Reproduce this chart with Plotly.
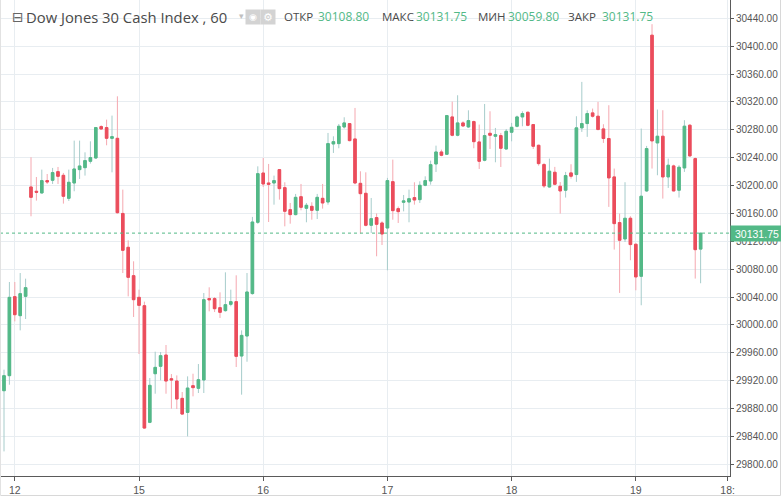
import plotly.graph_objects as go

# ---------------- data (hourly candles) ----------------
opens = [29905.6, 29927.2, 30040.6, 30013.3, 30041.0, 30198.0, 30191.8, 30189.4, 30207.1, 30207.6,
         30220.0, 30214.7, 30181.7, 30203.7, 30222.9, 30225.7, 30234.8, 30239.6, 30284.6, 30283.2,
         30267.8, 30267.8, 30160.0, 30111.4, 30070.7, 30039.6, 30027.6, 29860.2, 29930.0, 29940.6,
         29956.8, 29922.8, 29919.5, 29894.6, 29874.5, 29912.8, 29909.0, 29921.0, 30037.8, 30037.8,
         30024.8, 30020.5, 30029.6, 30033.4, 29955.4, 29984.1, 30045.0, 30147.3, 30218.0, 30203.7,
         30203.7, 30222.9, 30197.0, 30165.4, 30158.3, 30184.0, 30167.4, 30170.2, 30164.5, 30181.7,
         30176.4, 30259.7, 30260.2, 30284.1, 30288.9, 30266.9, 30203.2, 30188.9, 30143.0, 30154.0,
         30146.3, 30139.1, 30205.6, 30166.9, 30176.0, 30176.4, 30182.7, 30179.8, 30200.4, 30206.6,
         30231.0, 30248.2, 30244.9, 30298.5, 30272.2, 30289.9, 30284.1, 30291.8, 30262.6, 30236.3,
         30275.0, 30270.7, 30271.7, 30252.5, 30276.5, 30285.1, 30298.5, 30305.2, 30287.5, 30257.8,
         30230.1, 30198.0, 30219.1, 30199.0, 30193.3, 30218.2, 30215.8, 30282.8, 30289.0, 30304.3,
         30299.5, 30281.3, 30267.5, 30212.4, 30146.9, 30123.4, 30153.1, 30115.8, 30069.8, 30192.3,
         30415.8, 30261.2, 30270.8, 30212.4, 30228.2, 30193.3, 30225.3, 30286.6, 30238.7, 30108.80]
highs = [29935.8, 30061.6, 30061.6, 30074.5, 30066.4, 30240.6, 30212.3, 30222.9, 30216.6, 30225.3,
         30226.7, 30218.1, 30222.9, 30264.5, 30264.5, 30247.7, 30263.5, 30284.1, 30286.5, 30294.6,
         30300.4, 30328.1, 30194.2, 30121.4, 30091.3, 30050.6, 30033.4, 29923.8, 29961.6, 29961.1,
         29971.2, 29929.5, 29927.6, 29903.7, 29926.2, 29930.0, 29943.9, 30045.8, 30054.0, 30040.0,
         30046.8, 30075.5, 30050.6, 30071.2, 29992.2, 30074.5, 30155.0, 30227.6, 30239.6, 30231.0,
         30214.3, 30223.0, 30204.7, 30175.0, 30188.0, 30202.3, 30175.0, 30176.0, 30188.0, 30202.3,
         30275.5, 30270.7, 30288.4, 30298.0, 30289.0, 30311.4, 30220.5, 30219.0, 30182.2, 30160.0,
         30148.7, 30211.0, 30237.2, 30170.0, 30186.5, 30194.2, 30204.7, 30206.1, 30213.3, 30235.8,
         30257.3, 30251.6, 30301.3, 30320.5, 30329.6, 30292.2, 30308.0, 30293.2, 30287.5, 30317.1,
         30306.6, 30282.7, 30275.5, 30281.2, 30289.9, 30300.4, 30306.6, 30306.1, 30288.4, 30258.7,
         30232.5, 30238.7, 30226.8, 30205.0, 30219.6, 30230.6, 30299.5, 30348.8, 30308.0, 30310.5,
         30320.1, 30288.0, 30315.3, 30224.4, 30159.8, 30204.8, 30156.0, 30116.7, 30281.8, 30256.9,
         30431.6, 30309.1, 30308.1, 30238.7, 30230.0, 30229.2, 30293.8, 30288.0, 30240.2, 30131.75]
lows = [29818.5, 29914.2, 30005.1, 29992.2, 30008.5, 30155.9, 30178.4, 30188.4, 30202.3, 30202.3,
        30202.3, 30174.1, 30177.9, 30191.8, 30209.5, 30214.3, 30231.5, 30238.2, 30279.8, 30257.8,
        30219.0, 30159.7, 30074.5, 30041.0, 30011.4, 29958.3, 29851.0, 29859.0, 29901.3, 29920.5,
        29901.3, 29879.8, 29879.3, 29871.0, 29840.1, 29897.5, 29902.3, 29902.3, 30019.5, 30018.5,
        30010.0, 30019.0, 30026.7, 29939.6, 29899.9, 29947.2, 30043.4, 30145.0, 30198.0, 30147.7,
        30172.6, 30179.8, 30141.5, 30145.3, 30157.3, 30164.5, 30147.3, 30151.0, 30152.0, 30166.9,
        30172.6, 30246.8, 30253.5, 30281.7, 30263.5, 30201.8, 30131.0, 30141.5, 30132.0, 30098.5,
        30114.7, 30078.4, 30151.0, 30146.3, 30163.0, 30147.3, 30172.6, 30175.0, 30199.0, 30201.3,
        30219.5, 30242.0, 30244.0, 30270.7, 30270.7, 30284.1, 30282.7, 30253.5, 30223.8, 30234.8,
        30252.5, 30233.4, 30226.7, 30251.6, 30263.5, 30283.6, 30285.1, 30285.1, 30252.5, 30228.6,
        30196.6, 30197.0, 30200.5, 30159.8, 30182.8, 30210.0, 30205.3, 30277.0, 30269.9, 30297.6,
        30279.4, 30261.2, 30169.4, 30108.1, 30045.9, 30119.1, 30092.8, 30049.7, 30028.2, 30190.9,
        30224.4, 30214.8, 30181.3, 30196.6, 30191.9, 30182.8, 30219.6, 30241.1, 30066.5, 30059.80]
closes = [29927.2, 30039.6, 30014.7, 30044.9, 30053.5, 30183.1, 30190.4, 30207.1, 30205.2, 30218.6,
          30213.3, 30184.6, 30204.7, 30223.8, 30228.1, 30235.8, 30240.1, 30283.2, 30281.2, 30267.8,
          30270.2, 30161.1, 30107.1, 30068.3, 30036.2, 30028.1, 29852.0, 29913.3, 29939.1, 29955.9,
          29919.5, 29921.0, 29893.7, 29872.1, 29909.4, 29910.0, 29921.4, 30036.2, 30036.0, 30023.3,
          30018.1, 30029.1, 30033.4, 29954.9, 29985.0, 30047.3, 30147.7, 30217.1, 30202.3, 30201.8,
          30207.1, 30195.6, 30163.1, 30158.3, 30183.1, 30168.8, 30171.7, 30164.5, 30183.1, 30175.0,
          30260.2, 30263.0, 30285.1, 30289.9, 30264.5, 30203.7, 30188.4, 30143.0, 30152.5, 30144.4,
          30130.5, 30207.1, 30164.0, 30162.6, 30178.0, 30181.2, 30179.3, 30200.4, 30207.1, 30230.0,
          30248.2, 30243.4, 30300.4, 30272.2, 30289.9, 30285.6, 30293.2, 30263.0, 30234.8, 30271.7,
          30272.2, 30273.1, 30253.5, 30277.9, 30283.6, 30298.5, 30303.3, 30286.5, 30256.4, 30231.5,
          30199.5, 30220.6, 30201.9, 30192.3, 30214.3, 30213.4, 30282.8, 30289.0, 30303.3, 30299.5,
          30280.4, 30267.5, 30211.0, 30145.4, 30121.5, 30153.1, 30115.3, 30068.9, 30184.7, 30253.1,
          30264.1, 30270.8, 30212.4, 30229.2, 30192.3, 30226.3, 30285.2, 30242.6, 30108.0, 30131.75]

bar_index = list(range(len(opens)))

# day ticks (candle index where each day starts) and their labels
day_tick_index = [2, 25, 48, 71, 94, 117, 134]
day_tick_labels = ["12", "15", "16", "17", "18", "19", "18:"]

last_price = 30131.75
hdr_open, hdr_high, hdr_low, hdr_close = "30108.80", "30131.75", "30059.80", "30131.75"

# ---------------- styling ----------------
GREEN = "#53b987"
RED = "#eb4d5c"
GREEN_WICK = "#a6cccb"
RED_WICK = "#f5a8b0"
GRID = "#e8edf1"
AXIS = "#5a5a5a"
TXT = "#4a4a4a"

PW, PH = 730.0, 476.0  # plot area in pixels


def px(x):
    return x / PW


def py(y):
    return 1 - y / PH


body_high = [max(o, c) for o, c in zip(opens, closes)]
body_low = [min(o, c) for o, c in zip(opens, closes)]

fig = go.Figure()
# wicks (light colours)
fig.add_trace(go.Candlestick(
    x=bar_index, open=opens, high=highs, low=lows, close=closes,
    increasing=dict(line=dict(color=GREEN_WICK, width=1), fillcolor=GREEN_WICK),
    decreasing=dict(line=dict(color=RED_WICK, width=1), fillcolor=RED_WICK),
    whiskerwidth=0, showlegend=False, hoverinfo="skip"))
# bodies (solid colours)
fig.add_trace(go.Candlestick(
    x=bar_index, open=opens, high=body_high, low=body_low, close=closes,
    increasing=dict(line=dict(color=GREEN, width=1), fillcolor=GREEN),
    decreasing=dict(line=dict(color=RED, width=1), fillcolor=RED),
    whiskerwidth=0, showlegend=False, hoverinfo="skip"))

# current price dotted line
fig.add_shape(type="line", xref="paper", yref="y", x0=0, x1=1, y0=last_price, y1=last_price,
              line=dict(color=GREEN, width=1, dash="dot"), layer="above")

# light outer frame
fig.add_shape(type="line", xref="paper", yref="paper", x0=px(780.5), x1=px(780.5), y0=py(0), y1=py(495.5),
              line=dict(color="#d8d8d8", width=1))
fig.add_shape(type="line", xref="paper", yref="paper", x0=px(0.5), x1=px(780.5), y0=py(495.5), y1=py(495.5),
              line=dict(color="#d8d8d8", width=1))
fig.add_shape(type="line", xref="paper", yref="paper", x0=px(0.5), x1=px(0.5), y0=py(0), y1=py(495.5),
              line=dict(color="#e2e2e2", width=1))

ann = []
HF = "Open Sans"
ann.append(dict(text="⊟", x=px(10), y=py(17), font=dict(size=14, color="#666", family="DejaVu Sans")))
ann.append(dict(text="Dow Jones 30 Cash Index , 60", x=px(24), y=py(17), xanchor="left",
                font=dict(size=14.8, color=TXT, family=HF)))
ann.append(dict(text="▾", x=px(237), y=py(16), font=dict(size=9, color="#c0c0c0", family="DejaVu Sans")))
ann.append(dict(text="◉", x=px(252.5), y=py(17), width=12, height=12, bgcolor="#d3d3d3",
                font=dict(size=9, color="white", family="DejaVu Sans")))
ann.append(dict(text="⚙", x=px(267.5), y=py(17), width=12, height=12, bgcolor="#d3d3d3",
                font=dict(size=11, color="white", family="DejaVu Sans")))
for lbl, lx, val, vx in [("ОТКР", 282, hdr_open, 316), ("МАКС", 380, hdr_high, 414),
                         ("МИН", 476, hdr_low, 506), ("ЗАКР", 566, hdr_close, 600)]:
    ann.append(dict(text=lbl, x=px(lx), y=py(17), xanchor="left", font=dict(size=11.5, color=TXT, family=HF)))
    ann.append(dict(text=val, x=px(vx), y=py(17), xanchor="left", font=dict(size=12, color=GREEN, family=HF)))

# current price label on the right axis
ann.append(dict(text="30131.75", xref="paper", yref="y", x=px(730), y=last_price, xanchor="left",
                width=50, height=13, bgcolor=GREEN, align="center", borderpad=1,
                font=dict(size=10.5, color="white", family="Liberation Sans")))

for a in ann:
    a.setdefault("xref", "paper")
    a.setdefault("yref", "paper")
    a.setdefault("showarrow", False)
    a.setdefault("yanchor", "middle")

fig.update_layout(
    width=781, height=496,
    margin=dict(l=0, r=51, t=0, b=20, autoexpand=False),
    paper_bgcolor="white", plot_bgcolor="white",
    boxgap=0.33,
    showlegend=False,
    annotations=ann,
    xaxis=dict(
        range=[-0.74, 134.44], tickmode="array", tickvals=day_tick_index, ticktext=day_tick_labels,
        showgrid=True, gridcolor=GRID, gridwidth=1, zeroline=False,
        ticks="outside", ticklen=4, tickcolor=AXIS, showline=True, linecolor=AXIS, linewidth=1,
        tickfont=dict(size=10.5, color="#555", family="Liberation Sans"),
        rangeslider=dict(visible=False), fixedrange=True, automargin=False),
    yaxis=dict(
        side="right", range=[29783.2, 30466.3], tick0=29800, dtick=40, tickformat=".2f",
        showgrid=True, gridcolor=GRID, gridwidth=1, zeroline=False,
        ticks="outside", ticklen=3, tickcolor=AXIS, showline=True, linecolor=AXIS, linewidth=1,
        tickfont=dict(size=10, color="#555", family="Liberation Sans"), fixedrange=True, automargin=False),
)

fig.write_html("out.html", config={"displayModeBar": False, "staticPlot": True},
               post_script="document.body.style.margin='0';document.body.style.overflow='hidden';")
